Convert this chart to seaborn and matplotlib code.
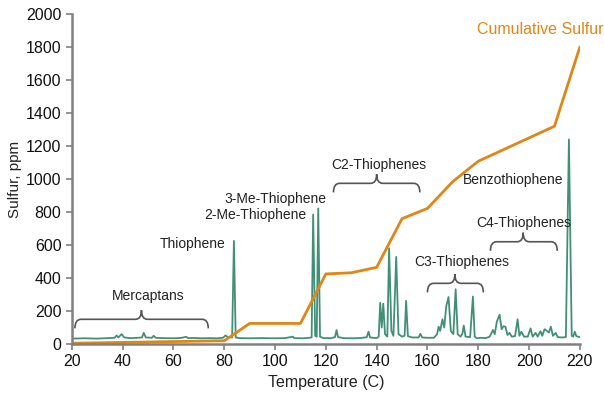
import matplotlib
matplotlib.use("Agg")
import matplotlib.pyplot as plt
import seaborn as sns
from matplotlib.path import Path
from matplotlib.patches import PathPatch

# Cumulative sulfur curve (temperature C, ppm)
cum_temp = [20, 80, 90, 110, 120, 130, 140, 150, 160, 170, 180, 210, 220]
cum_ppm = [5, 20, 125, 125, 425, 432, 465, 760, 822, 985, 1108, 1320, 1800]

# Sulfur chromatogram trace (temperature C, ppm)
trace_temp = [20, 25, 30, 34, 36.8, 37.6, 38.3, 39.6, 40.6, 43, 46, 47.6, 48.3, 49.1,
              51.5, 52.2, 53, 56, 60, 63, 65, 65.8, 68, 71, 74, 77, 79.5, 80.5, 81.5,
              83.1, 83.8, 84.5, 86, 90, 95, 100, 104, 107, 107.6, 111, 113.5, 114.4,
              115, 115.8, 116.4, 117, 117.7, 119, 122, 123.6, 124.2, 124.8, 127, 131,
              134, 136.1, 136.8, 137.4, 140, 140.8, 141.4, 142, 142.6, 143.3, 144.2,
              144.9, 145.8, 146.6, 147.7, 148.6, 150, 151, 151.6, 152.3, 154, 156.5,
              157.2, 157.9, 160, 162.5, 163.8, 164.4, 165, 165.9, 166.6, 167.4, 168.3,
              169.2, 170.2, 171.1, 171.9, 173, 173.7, 174.3, 175, 176.8, 177.9, 178.6,
              179.5, 181, 183, 184.5, 185.8, 186.5, 187.3, 188.4, 189.2, 189.9, 190.7,
              191.5, 192.3, 193.2, 194.5, 195.5, 196.2, 197, 198, 199.5, 200.6, 201.4,
              202.6, 203.4, 204.5, 205.2, 206.1, 207, 207.8, 208.6, 209.4, 210.5,
              211.3, 213, 214.5, 215.7, 216.8, 217.4, 218, 218.6, 220]
trace_ppm = [33, 35, 33, 36, 38, 52, 40, 60, 40, 36, 38, 40, 68, 40,
             38, 50, 38, 36, 35, 37, 44, 36, 37, 35, 36, 35, 38, 52, 42,
             40, 625, 40, 36, 35, 36, 35, 36, 45, 36, 35, 38, 40,
             785, 50, 45, 822, 45, 36, 36, 42, 85, 42, 36, 35,
             37, 42, 75, 40, 36, 45, 250, 100, 245, 60, 45,
             580, 80, 50, 528, 60, 45, 50, 262, 48, 40, 40,
             62, 40, 38, 38, 60, 105, 80, 150, 100, 230, 285,
             80, 60, 332, 60, 45, 60, 112, 45, 42, 288, 45,
             35, 38, 36, 45, 85, 60, 135, 178, 90, 108, 105,
             55, 68, 45, 48, 150, 50, 75, 45, 45, 95, 45,
             68, 45, 78, 50, 90, 80, 70, 105, 50, 68,
             42, 40, 42, 1240, 50, 45, 75, 48, 42]

# Compound group braces
brace_labels = ["Mercaptans", "C2-Thiophenes", "C3-Thiophenes", "C4-Thiophenes"]
brace_start = [21.2, 123, 160, 184.8]
brace_end = [73.7, 157, 182, 211.1]
brace_mid = [47.4, 140, 170.8, 197.7]
brace_level = [150, 974, 368, 620]
brace_label_x = [50, 141, 173.7, 198]
brace_label_y = [291, 1085, 497, 735]

# Single-peak labels
peak_labels = ["Thiophene", "2-Me-Thiophene", "3-Me-Thiophene", "Benzothiophene"]
peak_label_x = [67.6, 92.2, 100.2, 193.9]
peak_label_y = [606, 782, 877, 994]

green = "#428f77"
orange = "#df8617"
grey = "#808080"


def draw_brace(ax, x0, x1, xm, y, r=2.4, d=55, color="#555555"):
    verts = [(x0, y - d), (x0, y), (x0 + r, y),
             (xm - r, y), (xm, y), (xm, y + d),
             (xm, y), (xm + r, y),
             (x1 - r, y), (x1, y), (x1, y - d)]
    codes = [Path.MOVETO, Path.CURVE3, Path.CURVE3,
             Path.LINETO, Path.CURVE3, Path.CURVE3,
             Path.CURVE3, Path.CURVE3,
             Path.LINETO, Path.CURVE3, Path.CURVE3]
    ax.add_patch(PathPatch(Path(verts, codes), facecolor="none",
                           edgecolor=color, linewidth=1.2))


sns.set_style("ticks")
plt.rcParams["font.family"] = ["Liberation Sans", "DejaVu Sans"]

fig, ax = plt.subplots(figsize=(6.04, 4.01), dpi=100)
fig.subplots_adjust(left=0.119, right=0.960, bottom=0.142, top=0.965)

sns.lineplot(x=trace_temp, y=trace_ppm, sort=False, color=green,
             linewidth=1.3, ax=ax)
sns.lineplot(x=cum_temp, y=cum_ppm, sort=False, color=orange,
             linewidth=2.0, ax=ax)

for i in range(len(brace_labels)):
    draw_brace(ax, brace_start[i], brace_end[i], brace_mid[i], brace_level[i])
    ax.text(brace_label_x[i], brace_label_y[i], brace_labels[i],
            ha="center", va="center", fontsize=10, color="#222222")

for i in range(len(peak_labels)):
    ax.text(peak_label_x[i], peak_label_y[i], peak_labels[i],
            ha="center", va="center", fontsize=10, color="#222222")

ax.text(204.6, 1907, "Cumulative Sulfur", ha="center", va="center",
        fontsize=11.5, color=orange, clip_on=False)

ax.set_xlim(20, 220)
ax.set_ylim(0, 2000)
ax.set_xticks(range(20, 221, 20))
ax.set_yticks(range(0, 2001, 200))
ax.set_xlabel("Temperature (C)", fontsize=11.5, color="#222222")
ax.set_ylabel("Sulfur, ppm", fontsize=11, color="#222222", labelpad=3)
ax.tick_params(axis="both", labelsize=11.5, colors=grey, labelcolor="#111111",
               length=4, width=1.2)

sns.despine(ax=ax)
for side in ["left", "bottom"]:
    ax.spines[side].set_color(grey)
    ax.spines[side].set_linewidth(1.8)

fig.savefig("out.png", dpi=100)
